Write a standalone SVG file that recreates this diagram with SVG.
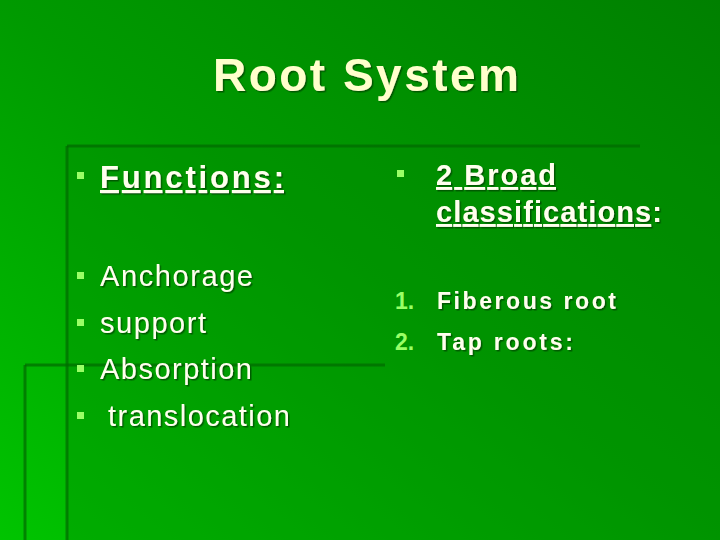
<svg xmlns="http://www.w3.org/2000/svg" width="720" height="540" viewBox="0 0 720 540">
<defs>
<linearGradient id="bg" x1="0" y1="1" x2="1" y2="0">
<stop offset="0" stop-color="#00c400"/>
<stop offset="0.5" stop-color="#009a00"/>
<stop offset="1" stop-color="#008000"/>
</linearGradient>
<filter id="sh" x="-5%" y="-5%" width="110%" height="120%"><feDropShadow dx="1.5" dy="1.5" stdDeviation="0.6" flood-color="#004000" flood-opacity="0.7"/></filter>
</defs>
<style>
.t{font-family:"Liberation Sans",Arial,sans-serif;fill:#ffffee;filter:url(#sh)}
.b{fill:#99ff66}
.n{font-family:"Liberation Sans",Arial,sans-serif;fill:#99ff66;font-weight:bold;font-size:23px}
.ln{stroke:#006a00;stroke-width:3;opacity:0.7}
</style>
<rect width="720" height="540" fill="url(#bg)"/>
<rect x="67" y="145" width="653" height="395" fill="#008a00" opacity="0.35"/>
<g id="deco">
<line class="ln" x1="67" y1="146" x2="67" y2="540"/>
<line class="ln" x1="67" y1="146" x2="640" y2="146"/>
<line class="ln" x1="25" y1="365" x2="385" y2="365"/>
<line class="ln" x1="25" y1="365" x2="25" y2="540"/>
</g>
<g id="title"><text class="t" x="213" y="91" textLength="306" lengthAdjust="spacing" font-size="46" font-weight="bold" style="fill:#ffffcc">Root System</text></g>
<g id="left">
<rect class="b" x="77" y="172" width="7" height="7"/>
<text class="t" x="100" y="188" font-size="31" font-weight="bold" text-decoration="underline" textLength="184" lengthAdjust="spacing">Functions:</text>
<rect class="b" x="77" y="272" width="7" height="7"/>
<text class="t" x="100" y="286" font-size="29" textLength="153" lengthAdjust="spacing">Anchorage</text>
<rect class="b" x="77" y="319" width="7" height="7"/>
<text class="t" x="100" y="333" font-size="29" textLength="106" lengthAdjust="spacing">support</text>
<rect class="b" x="77" y="365" width="7" height="7"/>
<text class="t" x="100" y="379" font-size="29" textLength="152" lengthAdjust="spacing">Absorption</text>
<rect class="b" x="77" y="412" width="7" height="7"/>
<text class="t" x="108" y="426" font-size="29" textLength="182" lengthAdjust="spacing">translocation</text>
</g>
<g id="right">
<rect class="b" x="397" y="170" width="7" height="7"/>
<text class="t" x="436" y="185" font-size="29" font-weight="bold" text-decoration="underline" textLength="120" lengthAdjust="spacing">2 Broad</text>
<text class="t" x="436" y="222" font-size="29" font-weight="bold" textLength="226" lengthAdjust="spacing"><tspan text-decoration="underline">classifications</tspan>:</text>
<text class="n" x="395" y="309">1.</text>
<text class="t" x="437" y="309" font-size="23" font-weight="bold" textLength="179" lengthAdjust="spacing">Fiberous root</text>
<text class="n" x="395" y="350">2.</text>
<text class="t" x="437" y="350" font-size="23" font-weight="bold" textLength="136" lengthAdjust="spacing">Tap roots:</text>
</g>
</svg>
